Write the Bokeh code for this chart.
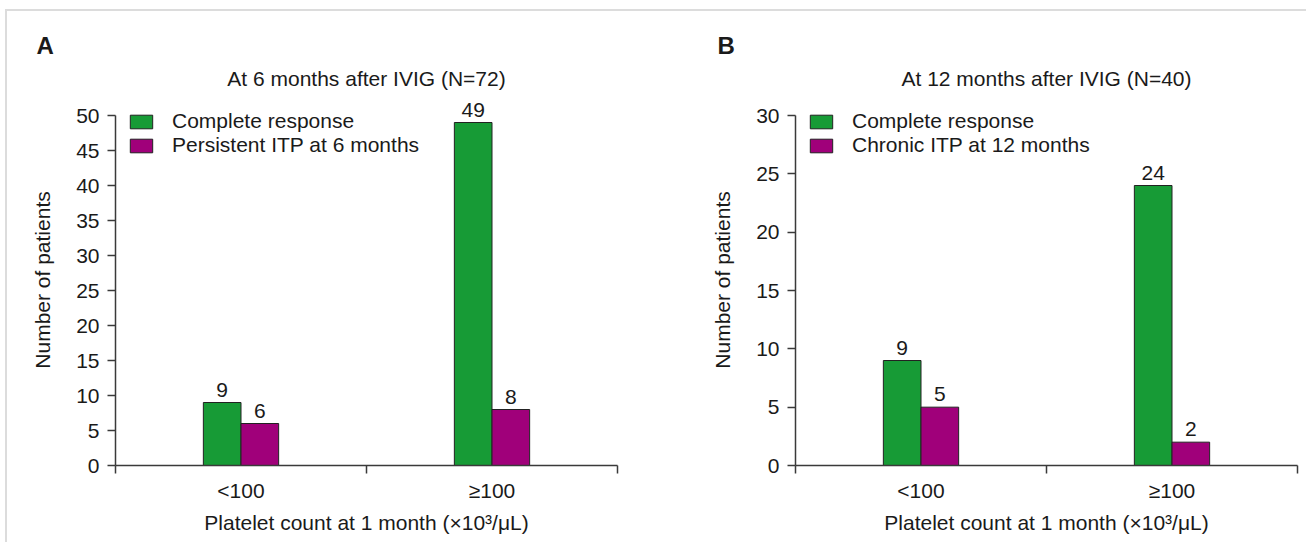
from bokeh.plotting import figure
from bokeh.models import (ColumnDataSource, FixedTicker, LinearAxis, Range1d,
                          LabelSet, Legend, LegendItem, Title)
from bokeh.layouts import row
from bokeh.embed import file_html
from bokeh.resources import INLINE
from bokeh.core.properties import value

categories = ["<100", "≥100"]
a_complete = [9, 49]
a_persistent = [6, 8]
b_complete = [9, 24]
b_chronic = [5, 2]
a_title = "At 6 months after IVIG (N=72)"
b_title = "At 12 months after IVIG (N=40)"
a_series = ["Complete response", "Persistent ITP at 6 months"]
b_series = ["Complete response", "Chronic ITP at 12 months"]
a_yticks = list(range(0, 51, 5))
b_yticks = list(range(0, 31, 5))
x_title = "Platelet count at 1 month (×10³/μL)"
y_title = "Number of patients"

GREEN = "#179B36"
MAGENTA = "#A0007A"
FONT = "Liberation Sans"
FS = "21px"
AXC = "#3a3a3a"
TXT = "#1a1a1a"


def panel(letter, title, series, v1, v2, yticks, ytop, width, bl, br, letter_off):
    p = figure(width=width, height=531, output_backend="svg", toolbar_location=None,
               x_range=Range1d(0, 2), y_range=Range1d(0, ytop),
               min_border_left=bl, min_border_right=br, min_border_top=83,
               min_border_bottom=77, x_axis_type=None, y_axis_type=None)
    p.outline_line_color = None
    p.background_fill_color = "white"
    p.border_fill_color = "white"
    n = len(categories)
    centers = [i + 0.5 for i in range(n)]
    src = ColumnDataSource(dict(
        x1=[c - 0.075 for c in centers], x2=[c + 0.075 for c in centers],
        v1=v1, v2=v2, t1=[str(v) for v in v1], t2=[str(v) for v in v2]))
    r1 = p.vbar(x="x1", top="v1", bottom=0, width=0.15, source=src,
                fill_color=GREEN, line_color="#222222", line_width=1)
    r2 = p.vbar(x="x2", top="v2", bottom=0, width=0.15, source=src,
                fill_color=MAGENTA, line_color="#222222", line_width=1)
    for xc, yc, tc in (("x1", "v1", "t1"), ("x2", "v2", "t2")):
        ls = LabelSet(x=xc, y=yc, text=tc, source=src,
                      text_align="center", text_baseline="bottom", y_offset=6,
                      text_font=value(FONT), text_font_size=value(FS),
                      text_color=TXT)
        p.add_layout(ls)

    xaxis = LinearAxis(ticker=FixedTicker(ticks=centers, minor_ticks=list(range(n + 1))),
                       major_label_overrides={c: lab for c, lab in zip(centers, categories)},
                       bounds=(0, n), major_tick_out=0, major_tick_in=0,
                       minor_tick_out=8, minor_tick_in=0,
                       axis_line_color=AXC, axis_line_width=1.5,
                       minor_tick_line_color=AXC, minor_tick_line_width=1.5,
                       major_label_standoff=5,
                       major_label_text_font=FONT, major_label_text_font_size=FS,
                       major_label_text_color=TXT,
                       axis_label=x_title, axis_label_standoff=6,
                       axis_label_text_font=FONT, axis_label_text_font_size=FS,
                       axis_label_text_font_style="normal", axis_label_text_color=TXT)
    p.add_layout(xaxis, "below")
    yaxis = LinearAxis(ticker=FixedTicker(ticks=yticks, minor_ticks=[]),
                       bounds=(yticks[0], yticks[-1]), major_tick_out=8, major_tick_in=0,
                       axis_line_color=AXC, axis_line_width=1.5,
                       major_tick_line_color=AXC, major_tick_line_width=1.5,
                       major_label_standoff=8,
                       major_label_text_font=FONT, major_label_text_font_size=FS,
                       major_label_text_color=TXT,
                       axis_label=y_title, axis_label_standoff=19,
                       axis_label_text_font=FONT, axis_label_text_font_size=FS,
                       axis_label_text_font_style="normal", axis_label_text_color=TXT)
    p.add_layout(yaxis, "left")

    legend = Legend(items=[LegendItem(label=series[0], renderers=[r1]),
                           LegendItem(label=series[1], renderers=[r2])],
                    location=(12, 308), margin=0, padding=0, spacing=0,
                    glyph_width=28, glyph_height=17, label_standoff=17,
                    label_height=24,
                    label_text_font=FONT, label_text_font_size=FS, label_text_color=TXT,
                    border_line_color=None, background_fill_alpha=0)
    p.add_layout(legend, "center")

    p.add_layout(Title(text=title, align="center", text_font=FONT, text_font_size=FS,
                       text_font_style="normal", text_color=TXT, standoff=10), "above")
    p.add_layout(Title(text=letter, align="left", offset=letter_off, text_font=FONT,
                       text_font_size="24px", text_font_style="bold", text_color=TXT,
                       standoff=2), "above")
    return p


pa = panel("A", a_title, a_series, a_complete, a_persistent, a_yticks, 53.0,
           649, 108, 39, -79)
pb = panel("B", b_title, b_series, b_complete, b_chronic, b_yticks, 31.8,
           650, 139, 9, -78)

layout = row(pa, pb, styles={"border-top": "2px solid #dcdcdc",
                             "border-left": "2px solid #dcdcdc",
                             "margin-top": "9px", "margin-left": "5px"})
open("out.html", "w").write(file_html(layout, INLINE))
